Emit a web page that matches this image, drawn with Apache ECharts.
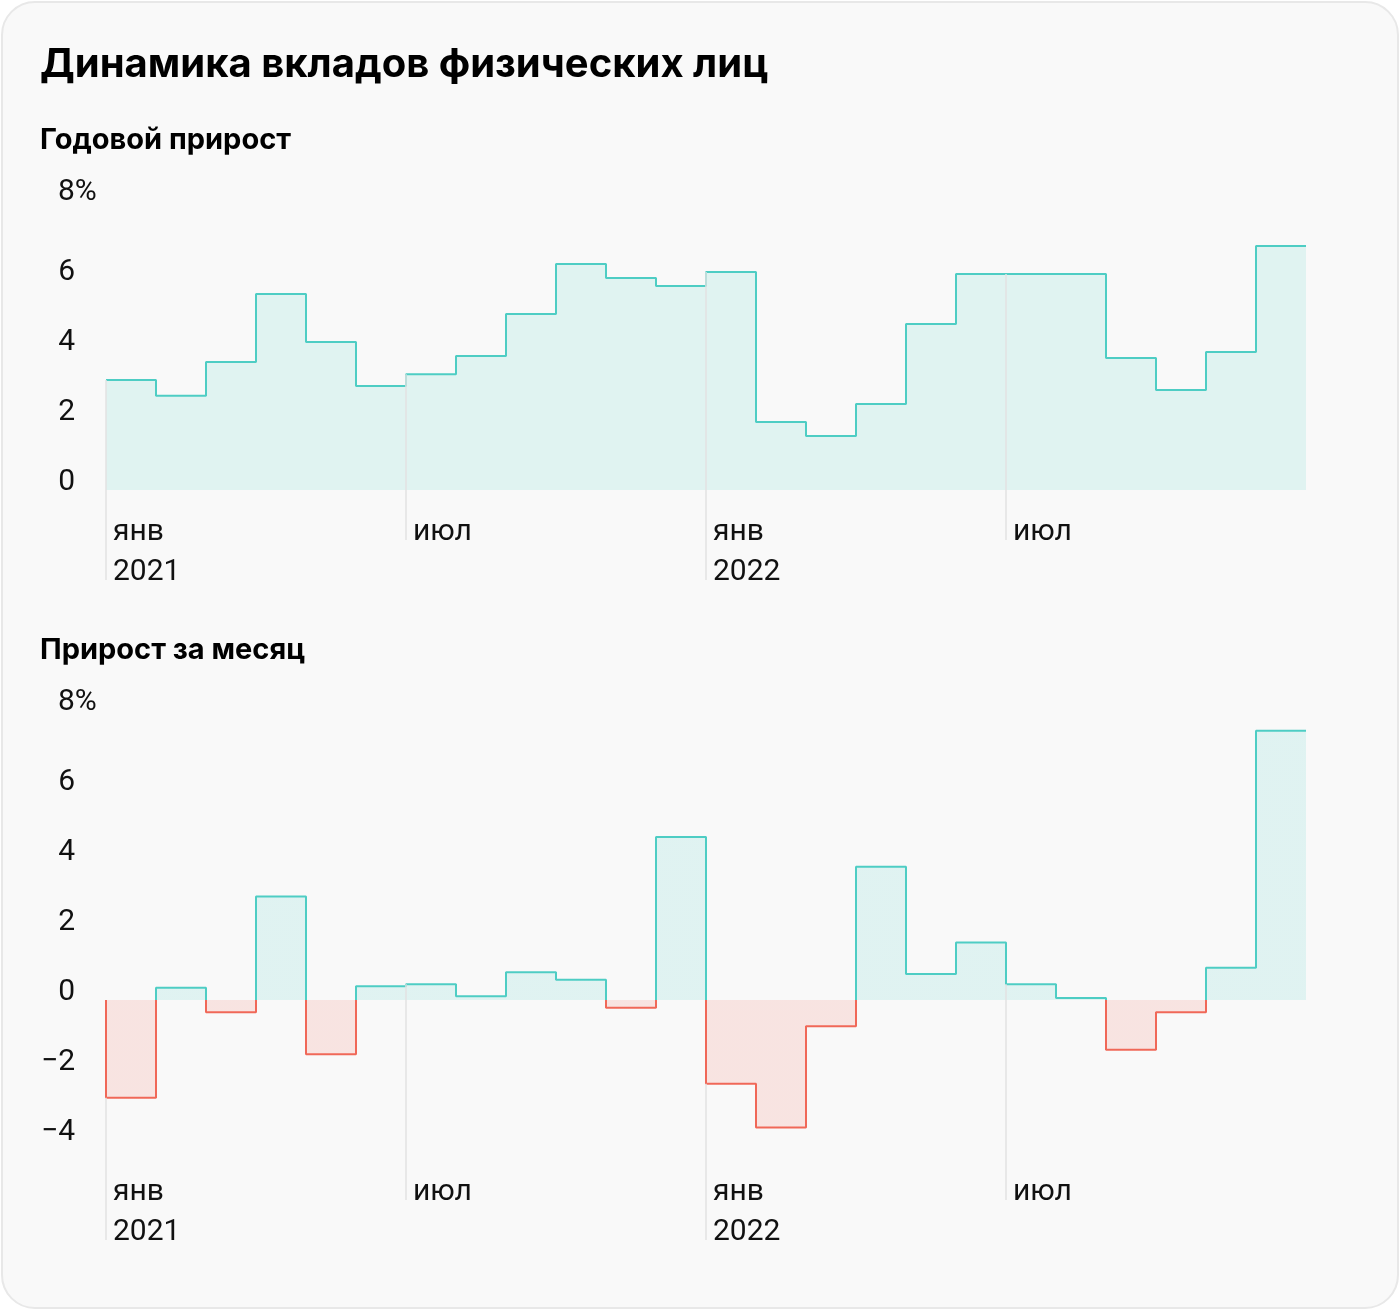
<!DOCTYPE html>
<html><head><meta charset="utf-8">
<script src="https://cdn.jsdelivr.net/npm/echarts@6/dist/echarts.min.js"></script>
<style>
html,body{margin:0;padding:0;background:#ffffff;}
#card{position:absolute;left:1px;top:1px;width:1394px;height:1304px;border:2px solid #e8e8e8;border-radius:34px;background:#f9f9f9;}
#chart{position:absolute;left:0;top:0;width:1400px;height:1310px;}
</style></head><body>
<div id="card"></div><div id="chart"></div>
<script>
// ---- data ----
const months = ['янв 2021','фев 2021','мар 2021','апр 2021','май 2021','июн 2021','июл 2021','авг 2021','сен 2021','окт 2021','ноя 2021','дек 2021',
                'янв 2022','фев 2022','мар 2022','апр 2022','май 2022','июн 2022','июл 2022','авг 2022','сен 2022','окт 2022','ноя 2022','дек 2022'];
const yearlyGrowth = [3.14, 2.69, 3.66, 5.6, 4.23, 2.97, 3.31, 3.83, 5.03, 6.46, 6.06, 5.83,
                      6.23, 1.94, 1.54, 2.46, 4.74, 6.17, 6.17, 6.17, 3.77, 2.86, 3.94, 6.97];
const monthlyGrowth = [-2.79, 0.35, -0.35, 2.96, -1.55, 0.39, 0.45, 0.11, 0.79, 0.58, -0.22, 4.66,
                       -2.39, -3.64, -0.75, 3.81, 0.74, 1.64, 0.45, 0.06, -1.42, -0.35, 0.92, 7.69];
const xTickPositions = [0, 6, 12, 18];
const xTickLabels = ['янв\n2021', 'июл', 'янв\n2022', 'июл'];
const yTicksTop = [0, 2, 4, 6];
const yTicksBottom = [-4, -2, 0, 2, 4, 6];
const yTopTick = [8];

// ---- style ----
const TEAL = '#4ecdc4', RED = '#f06858', GRID = '#e2e2e2', TXT = '#111111';
const FONT = 'Roboto', TFONT = 'Inter';

function stepData(vals, startAtZero) {
  const d = vals.map((v, i) => [i, v]);
  d.push([vals.length, vals[vals.length - 1]]);
  if (startAtZero) d.unshift([0, 0]);
  return d;
}
function tickLines(vals, longEnd, shortEnd) {
  return xTickPositions.map((p, k) => [
    { coord: [p, vals[p]] },
    { coord: [p, k % 2 === 0 ? longEnd : shortEnd] }
  ]);
}

const topMin = -90 / 35, topShort = -50 / 35;
const botMin = -240 / 35, botShort = -200 / 35;

function xAxisFor(gi) {
  return {
    type: 'value', gridIndex: gi, min: 0, max: months.length, interval: 6,
    axisLine: { show: false }, axisTick: { show: false }, splitLine: { show: false },
    axisLabel: {
      formatter: v => { const k = xTickPositions.indexOf(v); return k >= 0 ? xTickLabels[k] : ''; },
      align: 'left', padding: [0, 0, 0, 7], margin: -68, lineHeight: 40,
      fontSize: 30, color: TXT, fontFamily: FONT
    }
  };
}
function yAxesFor(gi, mn, ticks) {
  return [{
    type: 'value', gridIndex: gi, min: mn, max: 8, position: 'left',
    axisLine: { show: false }, axisTick: { show: false }, splitLine: { show: false },
    axisLabel: {
      customValues: ticks, formatter: v => (v < 0 ? '−' + Math.abs(v) : String(v)),
      align: 'right', verticalAlign: 'bottom', margin: 31, fontSize: 30, color: TXT, fontFamily: FONT, lineHeight: 16
    }
  }, {
    type: 'value', gridIndex: gi, min: mn, max: 8, position: 'left', offset: 0,
    axisLine: { show: false }, axisTick: { show: false }, splitLine: { show: false },
    axisLabel: {
      customValues: yTopTick, formatter: v => v + '%',
      align: 'left', verticalAlign: 'bottom', margin: 48, fontSize: 30, color: TXT, fontFamily: FONT,
      lineHeight: 16, padding: [0, 0, 10, 0]
    }
  }];
}

const markLineBase = {
  silent: true, symbol: ['none', 'none'], animation: false,
  lineStyle: { color: GRID, width: 1.5, type: 'solid', opacity: 1 },
  label: { show: false }
};

const chart = echarts.init(document.getElementById('chart'), null, { renderer: 'canvas' });
chart.setOption({
  animation: false,
  backgroundColor: 'transparent',
  title: [
    { text: 'Динамика вкладов физических лиц', left: 40, top: 45, padding: 0,
      textStyle: { fontSize: 40, fontWeight: 'bold', fontFamily: TFONT, color: '#000' } },
    { text: 'Годовой прирост', left: 40, top: 126, padding: 0,
      textStyle: { fontSize: 29, fontWeight: 'bold', fontFamily: TFONT, color: '#000' } },
    { text: 'Прирост за месяц', left: 40, top: 636, padding: 0,
      textStyle: { fontSize: 29, fontWeight: 'bold', fontFamily: TFONT, color: '#000' } }
  ],
  grid: [
    { left: 106, width: 1200, top: 210, height: 370 },
    { left: 106, width: 1200, top: 720, height: 520 }
  ],
  xAxis: [xAxisFor(0), xAxisFor(1)],
  yAxis: [...yAxesFor(0, topMin, yTicksTop), ...yAxesFor(1, botMin, yTicksBottom)],
  visualMap: [{
    type: 'piecewise', show: false, seriesIndex: 1, dimension: 1,
    pieces: [{ min: -20, max: 0, color: RED }, { min: 0, max: 20, color: TEAL }]
  }],
  series: [
    {
      type: 'line', xAxisIndex: 0, yAxisIndex: 0, step: 'end',
      data: stepData(yearlyGrowth, false), showSymbol: false, silent: true,
      lineStyle: { color: TEAL, width: 2 },
      itemStyle: { color: TEAL },
      areaStyle: { color: TEAL, opacity: 0.15 },
      markLine: Object.assign({}, markLineBase, { data: tickLines(yearlyGrowth, topMin, topShort) })
    },
    {
      type: 'line', xAxisIndex: 1, yAxisIndex: 2, step: 'end',
      data: stepData(monthlyGrowth, true), showSymbol: false, silent: true,
      lineStyle: { width: 2 },
      areaStyle: { opacity: 0.15 },
      markLine: Object.assign({}, markLineBase, { data: tickLines(monthlyGrowth, botMin, botShort) })
    }
  ]
});
</script>
</body></html>
